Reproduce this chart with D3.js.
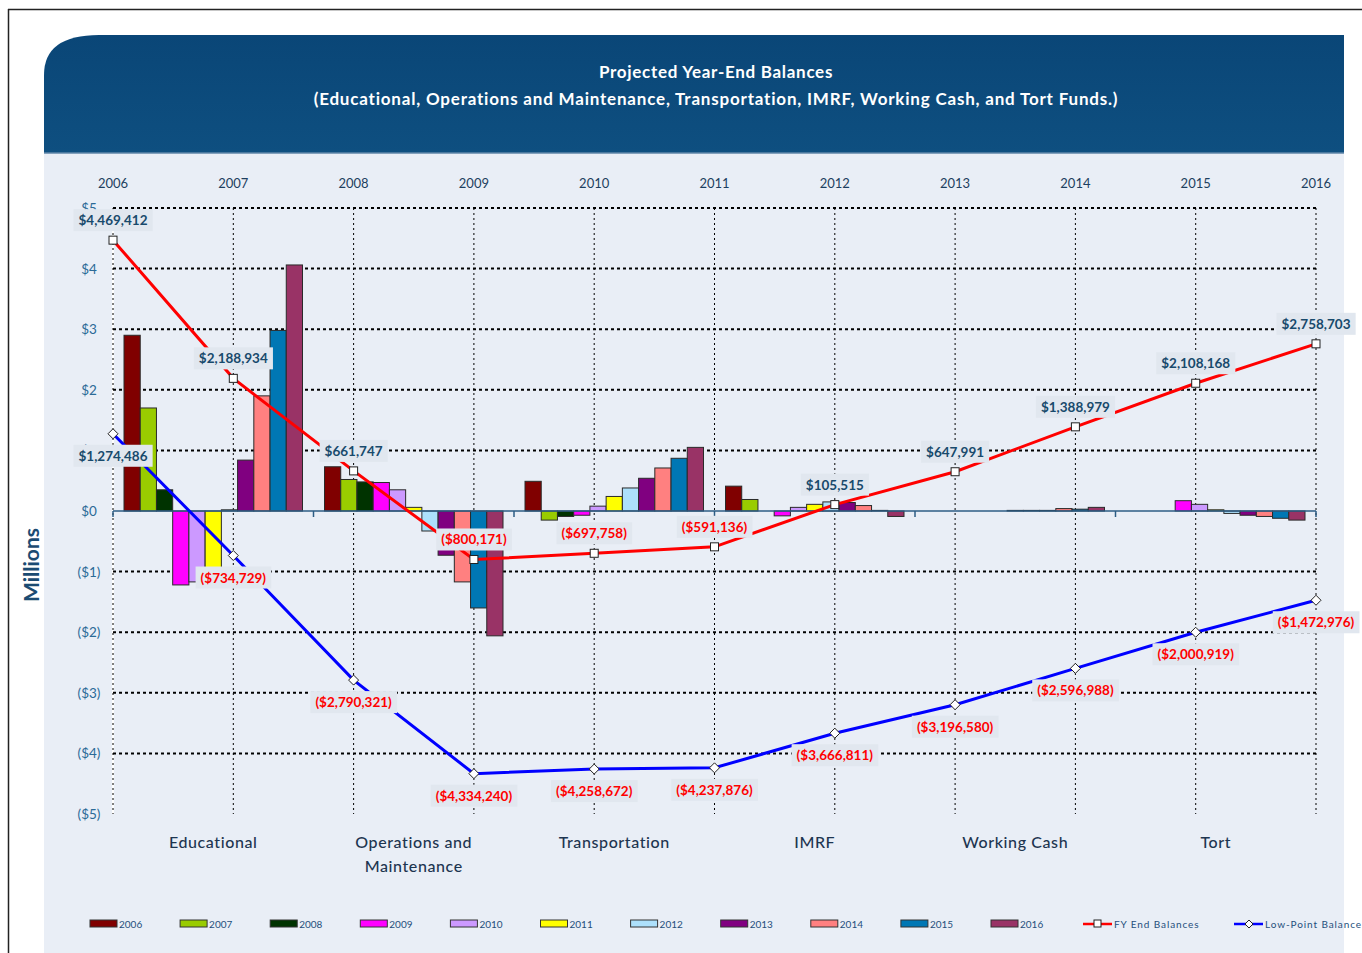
<!DOCTYPE html>
<html>
<head>
<meta charset="utf-8">
<script src="https://cdn.jsdelivr.net/npm/d3@7"></script>
<style>
  body { margin: 0; background: #fff; }
  svg { display: block; font-family: Lato, "Open Sans", sans-serif; }
</style>
</head>
<body>
<script>
// categories and series
const funds = ["Educational", "Operations and Maintenance", "Transportation", "IMRF", "Working Cash", "Tort"];
const years = ["2006", "2007", "2008", "2009", "2010", "2011", "2012", "2013", "2014", "2015", "2016"];
const colors = ["#800000", "#99cc00", "#003300", "#ff00ff", "#cc99ff", "#ffff00", "#ade0fb", "#800080", "#ff8080", "#0077b4", "#993366"];

// fund balances in millions, one array per fund, values per year 2006..2016
const educational   = [2.90, 1.70, 0.35, -1.22, -1.17, -0.95, 0.02, 0.84, 1.90, 2.98, 4.06];
const operations    = [0.73, 0.52, 0.48, 0.47, 0.35, 0.06, -0.33, -0.73, -1.17, -1.60, -2.06];
const transportation = [0.49, -0.15, -0.09, -0.07, 0.08, 0.24, 0.38, 0.54, 0.71, 0.87, 1.05];
const imrf          = [0.41, 0.19, 0.00, -0.08, 0.06, 0.11, 0.15, 0.14, 0.09, 0.01, -0.09];
const workingCash   = [0.00, 0.00, 0.00, 0.00, 0.00, 0.01, 0.01, 0.01, 0.04, 0.03, 0.06];
const tort          = [0.00, 0.00, 0.00, 0.17, 0.11, 0.02, -0.04, -0.07, -0.09, -0.12, -0.15];
const fundValues = [educational, operations, transportation, imrf, workingCash, tort];

// lines (dollars)
const fyEnd = [4469412, 2188934, 661747, -800171, -697758, -591136, 105515, 647991, 1388979, 2108168, 2758703];
const lowPoint = [1274486, -734729, -2790321, -4334240, -4258672, -4237876, -3666811, -3196580, -2596988, -2000919, -1472976];

const yTicks = [5, 4, 3, 2, 1, 0, -1, -2, -3, -4, -5];

const W = 1362, H = 953;
const svg = d3.select("body").append("svg").attr("width", W).attr("height", H);

// frame
svg.append("line").attr("x1", 8.5).attr("x2", 8.5).attr("y1", 9).attr("y2", H).attr("stroke", "#222").attr("stroke-width", 1.5);
svg.append("line").attr("x1", 8).attr("x2", W).attr("y1", 9.5).attr("y2", 9.5).attr("stroke", "#222").attr("stroke-width", 1.5);

// panel background
svg.append("rect").attr("x", 44).attr("y", 150).attr("width", 1300).attr("height", H - 150).attr("fill", "#e9eef6");

// header
const hx0 = 44, hx1 = 1344, hy0 = 35, hy1 = 153;
const grad = svg.append("defs").append("linearGradient").attr("id", "hdr").attr("x1", 0).attr("x2", 0).attr("y1", 0).attr("y2", 1);
grad.append("stop").attr("offset", "0%").attr("stop-color", "#0a4677");
grad.append("stop").attr("offset", "100%").attr("stop-color", "#0e4f80");
svg.append("path")
  .attr("d", `M${hx0},${hy1} L${hx0},${hy0 + 40} Q${hx0},${hy0} ${hx0 + 55},${hy0} L${hx1},${hy0} L${hx1},${hy1} Z`)
  .attr("fill", "url(#hdr)");
svg.append("line").attr("x1", hx0).attr("x2", hx1).attr("y1", hy1).attr("y2", hy1).attr("stroke", "#5f86a8").attr("stroke-width", 1.5);

svg.append("text").attr("x", 716).attr("y", 78).attr("text-anchor", "middle")
  .attr("fill", "#fff").attr("font-weight", "bold").attr("font-size", 17).attr("letter-spacing", 0.7)
  .text("Projected Year-End Balances");
svg.append("text").attr("x", 716).attr("y", 105).attr("text-anchor", "middle")
  .attr("fill", "#fff").attr("font-weight", "bold").attr("font-size", 17).attr("letter-spacing", 0.8)
  .text("(Educational, Operations and Maintenance, Transportation, IMRF, Working Cash, and Tort Funds.)");

// scales
const left = 113, right = 1316;
const y = d3.scaleLinear().domain([-5, 5]).range([814, 208]);
const xYear = d3.scalePoint().domain(years).range([left, right]);
const x0 = d3.scaleBand().domain(funds).range([left, right]);
const x1 = d3.scaleBand().domain(years).range([11, x0.bandwidth() - 11]);

// y axis label
svg.append("text").attr("transform", "translate(39,565) rotate(-90)").attr("text-anchor", "middle")
  .attr("fill", "#1b4b72").attr("font-weight", "bold").attr("font-size", 21).text("Millions");

// y tick labels
svg.append("g").selectAll("text").data(yTicks).join("text")
  .attr("x", 89).attr("y", d => y(d) + 5).attr("text-anchor", "middle")
  .attr("fill", "#2b6a97").attr("font-size", 13.5)
  .text(d => d === 0 ? "$0" : d > 0 ? "$" + d : "($" + (-d) + ")");

// top year labels
svg.append("g").selectAll("text").data(years).join("text")
  .attr("x", d => xYear(d)).attr("y", 188).attr("text-anchor", "middle")
  .attr("fill", "#1d3f60").attr("font-size", 13).text(d => d);

// y axis (white)
svg.append("line").attr("x1", left).attr("x2", left).attr("y1", 208).attr("y2", 814).attr("stroke", "#fff").attr("stroke-width", 2);

// grid
svg.append("g").selectAll("line").data(yTicks.filter(d => d !== 0 && d !== -5)).join("line")
  .attr("x1", left).attr("x2", right).attr("y1", d => y(d)).attr("y2", d => y(d))
  .attr("stroke", "#000").attr("stroke-width", 2).attr("stroke-dasharray", "3,3");
svg.append("g").selectAll("line").data(years).join("line")
  .attr("x1", d => xYear(d)).attr("x2", d => xYear(d)).attr("y1", 208).attr("y2", 814)
  .attr("stroke", "#000").attr("stroke-width", 1).attr("stroke-dasharray", "2,3");

// bars
const groups = svg.append("g").selectAll("g").data(funds).join("g")
  .attr("transform", d => `translate(${x0(d)},0)`);
groups.selectAll("rect").data((d, i) => fundValues[i].map((v, j) => ({ year: years[j], v, c: colors[j] })))
  .join("rect")
  .attr("x", d => x1(d.year)).attr("width", x1.bandwidth())
  .attr("y", d => y(Math.max(0, d.v))).attr("height", d => Math.abs(y(d.v) - y(0)))
  .attr("fill", d => d.c).attr("stroke", "#2a2a2a").attr("stroke-width", 1);

// zero axis + ticks
svg.append("line").attr("x1", left).attr("x2", right).attr("y1", y(0)).attr("y2", y(0)).attr("stroke", "#2c5c84").attr("stroke-width", 1.5);
const bounds = funds.map(f => x0(f)).concat([right]);
svg.append("g").selectAll("line").data(bounds).join("line")
  .attr("x1", d => d).attr("x2", d => d).attr("y1", y(0)).attr("y2", y(0) + 6)
  .attr("stroke", "#2c5c84").attr("stroke-width", 1.5);

// category labels
const catLines = [["Educational"], ["Operations and", "Maintenance"], ["Transportation"], ["IMRF"], ["Working Cash"], ["Tort"]];
svg.append("g").selectAll("text").data(funds).join("text")
  .attr("x", d => x0(d) + x0.bandwidth() / 2).attr("y", 848).attr("text-anchor", "middle")
  .attr("fill", "#1d3550").attr("font-size", 16).attr("font-weight", 500).attr("letter-spacing", 0.6)
  .each(function (d, i) {
    d3.select(this).selectAll("tspan").data(catLines[i]).join("tspan")
      .attr("x", x0(d) + x0.bandwidth() / 2).attr("dy", (t, k) => k === 0 ? 0 : 24).text(t => t);
  });

// lines
const line = d3.line().x((d, i) => xYear(years[i])).y(d => y(d / 1e6));
svg.append("path").datum(fyEnd).attr("d", line).attr("fill", "none").attr("stroke", "#ff0000").attr("stroke-width", 3);
svg.append("path").datum(lowPoint).attr("d", line).attr("fill", "none").attr("stroke", "#0000ff").attr("stroke-width", 3);

svg.append("g").selectAll("rect").data(fyEnd).join("rect")
  .attr("x", (d, i) => xYear(years[i]) - 4).attr("y", d => y(d / 1e6) - 4).attr("width", 8).attr("height", 8)
  .attr("fill", "#fff").attr("stroke", "#222").attr("stroke-width", 1);
svg.append("g").selectAll("path").data(lowPoint).join("path")
  .attr("transform", (d, i) => `translate(${xYear(years[i])},${y(d / 1e6)})`)
  .attr("d", "M0,-5L5,0L0,5L-5,0Z")
  .attr("fill", "#fff").attr("stroke", "#222").attr("stroke-width", 1);

// data labels
const fmt = d3.format(",");
const money = v => v < 0 ? "($" + fmt(-v) + ")" : "$" + fmt(v);
function labels(data, dy) {
  const g = svg.append("g").selectAll("g").data(data).join("g")
    .attr("transform", (d, i) => `translate(${xYear(years[i])},${y(d / 1e6) + dy})`);
  g.append("text").attr("text-anchor", "middle").attr("y", 5)
    .attr("font-weight", "bold").attr("font-size", 13.5)
    .attr("fill", d => d < 0 ? "#ff0000" : "#184a6c").text(money);
  g.insert("rect", "text").each(function () {
    const bb = this.nextSibling.getBBox();
    d3.select(this).attr("x", bb.x - 5).attr("y", -11).attr("width", bb.width + 10).attr("height", 22);
  }).attr("fill", "#e1e7ef");
}
labels(fyEnd, -20);
labels(lowPoint, 22);

// legend
const legend = svg.append("g").attr("transform", "translate(0,924)");
const items = years.map((yr, i) => ({ type: "bar", label: yr, c: colors[i], x: 90 + i * 90.1 }))
  .concat([{ type: "fy", label: "FY End Balances", x: 1082 }, { type: "low", label: "Low-Point Balance", x: 1233 }]);
const li = legend.selectAll("g").data(items).join("g")
  .attr("transform", d => `translate(${d.x},0)`);
li.filter(d => d.type === "bar").append("rect")
  .attr("x", 0).attr("y", -4).attr("width", 27).attr("height", 7)
  .attr("fill", d => d.c).attr("stroke", "#333").attr("stroke-width", 1);
li.filter(d => d.type !== "bar").append("line")
  .attr("x1", 1).attr("x2", 30).attr("y1", 0).attr("y2", 0)
  .attr("stroke", d => d.type === "fy" ? "#ff0000" : "#0000ff").attr("stroke-width", 2.5);
li.filter(d => d.type === "fy").append("rect").attr("x", 12).attr("y", -4).attr("width", 7).attr("height", 7)
  .attr("fill", "#fff").attr("stroke", "#222");
li.filter(d => d.type === "low").append("path").attr("d", "M16,-4L20,0L16,4L12,0Z")
  .attr("fill", "#fff").attr("stroke", "#222");
li.append("text").attr("x", d => d.type === "bar" ? 29 : 32).attr("y", 4)
  .attr("fill", "#1f4f7c").attr("font-size", 10).attr("letter-spacing", d => d.type === "bar" ? 0 : 0.9)
  .text(d => d.label);
</script>
</body>
</html>
